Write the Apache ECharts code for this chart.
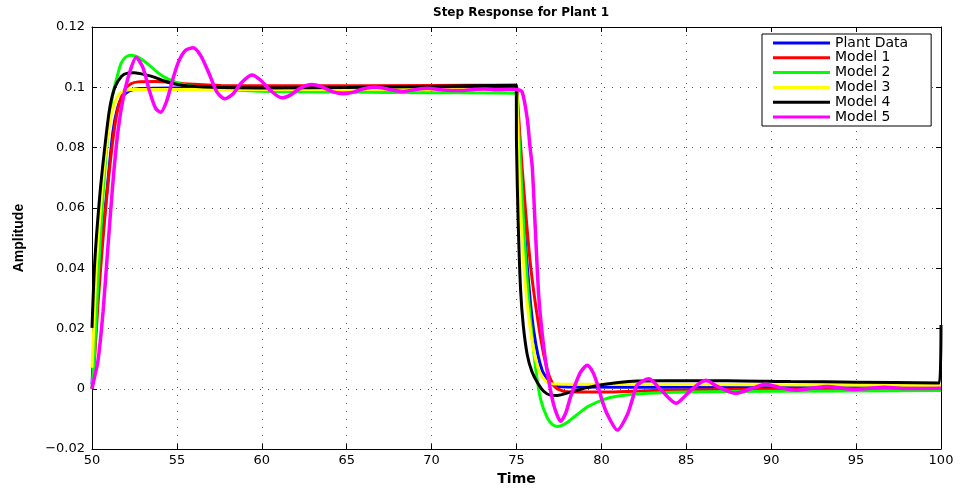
<!DOCTYPE html>
<html>
<head>
<meta charset="utf-8">
<script src="https://cdn.jsdelivr.net/npm/echarts@6/dist/echarts.min.js"></script>
<style>
html,body{margin:0;padding:0;background:#fff;}
#chart{width:961px;height:491px;}
</style>
</head>
<body>
<div id="chart"></div>
<script>
// ---- data: [time, amplitude] pairs ----
const seriesNames = ['Plant Data', 'Model 1', 'Model 2', 'Model 3', 'Model 4', 'Model 5'];

const plantData = [
  [50,0.0015],[50.1,0.012],[50.3,0.03],[50.65,0.052],[50.94,0.069],[51.24,0.0855],[51.5,0.093],
  [51.8,0.097],[52.2,0.0988],[52.8,0.0996],[55,0.0998],[60,0.0998],[70,0.0998],[75,0.0998],
  [75.04,0.095],[75.24,0.0734],[75.63,0.0408],[76.02,0.019],[76.52,0.006],[77.2,0.0011],
  [78,0.0006],[85,0.0005],[100,0.0004]
];
const model1Data = [
  [50,0],[50.15,0.01],[50.35,0.028],[50.65,0.05],[50.94,0.068],[51.24,0.083],[51.53,0.093],
  [51.93,0.0993],[52.3,0.1012],[52.71,0.1018],[53.7,0.1019],[55.66,0.1011],[57.6,0.1006],
  [62,0.1005],[70,0.1006],[75,0.1007],
  [75.05,0.097],[75.33,0.0734],[75.83,0.0408],[76.42,0.0169],[76.8,0.0065],[77.1,0.002],
  [77.4,0],[78.18,-0.0011],[80.1,-0.0011],[83.1,-0.0006],[90,-0.0001],[100,0.0001]
];
const model2Data = [
  [50,0],[50.15,0.012],[50.3,0.03],[50.6,0.06],[50.9,0.082],[51.2,0.097],[51.5,0.104],
  [51.73,0.1082],[52.0,0.1101],[52.32,0.1106],[52.8,0.1097],[53.3,0.1077],[53.8,0.1052],
  [54.29,0.1033],[55,0.1015],[55.66,0.1006],[56.6,0.1],[57.62,0.0995],[59.59,0.0988],
  [65,0.0984],[70,0.0982],[75,0.098],
  [75.05,0.094],[75.2,0.078],[75.5,0.047],[75.8,0.024],[76.1,0.008],[76.4,-0.003],
  [76.8,-0.0095],[77.1,-0.0118],[77.4,-0.0125],[77.8,-0.0118],[78.18,-0.0103],[78.7,-0.008],
  [79.17,-0.006],[80.15,-0.0035],[81,-0.0024],[82.1,-0.0017],[85,-0.0011],[90,-0.0008],[100,-0.0006]
];
const model3Data = [
  [50,0.007],[50.1,0.02],[50.25,0.04],[50.55,0.0636],[50.84,0.08],[51.14,0.091],[51.45,0.0965],
  [51.73,0.0984],[52.3,0.0993],[54,0.0993],[65,0.0993],[75,0.0993],
  [75.03,0.096],[75.14,0.0734],[75.43,0.0408],[75.83,0.019],[76.32,0.006],[76.9,0.0018],
  [77.5,0.0016],[85,0.0014],[100,0.0011]
];
const model4Data = [
  [50,0.0202],[50.16,0.0419],[50.45,0.0636],[50.75,0.08],[51.04,0.093],[51.35,0.1],[51.73,0.1036],
  [52.1,0.1047],[52.5,0.1048],[53.1,0.1042],[53.7,0.1033],[54.3,0.102],[54.88,0.1011],
  [55.7,0.1004],[56.6,0.1001],[60,0.0998],[65,0.0999],[70,0.1003],[74.98,0.1007],
  [75.0,0.081],[75.1,0.055],[75.24,0.033],[75.4,0.021],[75.63,0.0114],[75.9,0.0058],
  [76.22,0.0022],[76.6,-0.0008],[77.0,-0.0021],[77.4,-0.0022],[78.18,-0.0011],[79.1,0.0003],
  [80.1,0.0014],[81,0.0021],[82.1,0.0026],[83.5,0.0027],[87.4,0.0027],[91.15,0.0024],
  [95,0.0022],[99.9,0.0019],[100,0.0212]
];
const model5Data = [
  [50,0],[50.06,0.0016],[50.35,0.0092],[50.65,0.0255],[50.94,0.0473],[51.24,0.069],[51.53,0.0855],
  [51.83,0.0962],[52.22,0.105],[52.6,0.1099],[53.0,0.1065],[53.4,0.0985],[53.75,0.093],
  [54.05,0.0917],[54.4,0.0955],[54.75,0.1025],[55.1,0.1085],[55.5,0.1122],[55.96,0.1131],
  [56.4,0.1105],[56.9,0.1045],[57.35,0.0985],[57.82,0.0962],[58.3,0.0978],[58.8,0.1015],
  [59.41,0.1041],[59.9,0.1025],[60.5,0.099],[61.18,0.0965],[61.7,0.0975],[62.3,0.0998],
  [62.95,0.1009],[63.5,0.1002],[64.2,0.0985],[64.82,0.0979],[65.4,0.0984],[66.0,0.0995],
  [66.69,0.1001],[67.5,0.0993],[68.26,0.0986],[69.0,0.0992],[69.73,0.0997],[70.7,0.0991],
  [71.7,0.0989],[72.4,0.0992],[73.07,0.0994],[74,0.0992],[75,0.0993],
  [75.33,0.0985],[75.63,0.0897],[75.8,0.08],[75.93,0.0734],[76.12,0.0516],[76.32,0.03],
  [76.61,0.0136],[76.9,0.0027],[77.2,-0.0055],[77.6,-0.0108],[77.9,-0.008],[78.18,-0.0027],
  [78.5,0.002],[78.77,0.0055],[79.17,0.0078],[79.5,0.0055],[79.76,0.0016],[80.05,-0.004],
  [80.35,-0.0085],[80.94,-0.0137],[81.53,-0.0085],[81.85,-0.003],[82.1,0.0012],[82.8,0.0033],
  [83.5,-0.0003],[84.4,-0.0048],[85.26,-0.0005],[86.15,0.0028],[86.83,0.0008],[87.9,-0.0015],
  [88.8,0.0],[89.68,0.0015],[90.5,0.0004],[91.45,-0.0005],[92.4,0.0002],[93.3,0.0008],
  [94.1,0.0003],[94.9,-0.0002],[95.8,0.0002],[96.66,0.0005],[98,0.0001],[100,0.0002]
];
const seriesData = [plantData, model1Data, model2Data, model3Data, model4Data, model5Data];
const seriesColors = ['#0000ff', '#ff0000', '#00ff00', '#ffff00', '#000000', '#ff00ff'];

// axis ranges / ticks
const xMin = 50, xMax = 100, xStep = 5;
const yMin = -0.02, yMax = 0.12, yStep = 0.02;

const FONT = "'DejaVu Sans', 'Liberation Sans', sans-serif";
const fmtY = v => {
  const r = parseFloat(v.toFixed(2));
  if (r === 0) return '0';
  return r < 0 ? '\u2212' + String(-r) : String(r);
};

const dotted = { show: true, lineStyle: { color: '#555', width: 1, type: [1, 7] } };
const tick = { show: true, inside: true, length: 5, lineStyle: { color: '#000' } };
const line = { show: true, onZero: false, lineStyle: { color: '#000', width: 1 } };

const chart = echarts.init(document.getElementById('chart'), null, { renderer: 'canvas' });
chart.setOption({
  animation: false,
  backgroundColor: '#fff',
  title: {
    text: 'Step Response for Plant 1',
    left: 516, top: 2, textAlign: 'center',
    textStyle: { fontFamily: FONT, fontSize: 12, fontWeight: 'bold', color: '#000' }
  },
  grid: { left: 92, right: 20, top: 27, bottom: 36, containLabel: false },
  legend: {
    data: seriesNames,
    orient: 'vertical',
    left: 762, top: 34,
    backgroundColor: '#fff',
    borderColor: '#000', borderWidth: 1, borderRadius: 0,
    padding: [2, 23, 2, 11],
    itemWidth: 57, itemHeight: 14, itemGap: 0.8,
    icon: 'path://M0,0 H57 V3 H0 Z',
    symbolKeepAspect: true,
    textStyle: { fontFamily: FONT, fontSize: 14, color: '#000' }
  },
  xAxis: [
    {
      type: 'value', min: xMin, max: xMax, interval: xStep, position: 'bottom',
      name: 'Time', nameLocation: 'middle', nameGap: 19,
      nameTextStyle: { fontFamily: FONT, fontSize: 14, fontWeight: 'bold', color: '#000' },
      axisLine: line, axisTick: tick,
      axisLabel: { fontFamily: FONT, fontSize: 13, color: '#000', margin: 5 },
      splitLine: dotted
    },
    {
      type: 'value', min: xMin, max: xMax, interval: xStep, position: 'top',
      axisLine: line, axisTick: tick, axisLabel: { show: false }, splitLine: { show: false }
    }
  ],
  yAxis: [
    {
      type: 'value', min: yMin, max: yMax, interval: yStep, position: 'left',
      name: 'Amplitude', nameLocation: 'middle', nameGap: 66,
      nameTextStyle: { fontFamily: "'Liberation Sans', Arial, sans-serif",
        fontSize: 14, fontWeight: 'bold', color: '#000' },
      axisLine: line, axisTick: tick,
      axisLabel: { fontFamily: FONT, fontSize: 13, color: '#000', margin: 7, formatter: fmtY },
      splitLine: dotted
    },
    {
      type: 'value', min: yMin, max: yMax, interval: yStep, position: 'right',
      axisLine: line, axisTick: tick, axisLabel: { show: false }, splitLine: { show: false }
    }
  ],
  series: seriesNames.map((name, i) => ({
    name: name,
    type: 'line',
    xAxisIndex: 0, yAxisIndex: 0,
    data: seriesData[i],
    symbol: 'none',
    smooth: 0.25,
    clip: true,
    color: seriesColors[i],
    lineStyle: { color: seriesColors[i], width: i === 5 ? 3.5 : 3 },
    z: 2 + i
  }))
});
</script>
</body>
</html>
